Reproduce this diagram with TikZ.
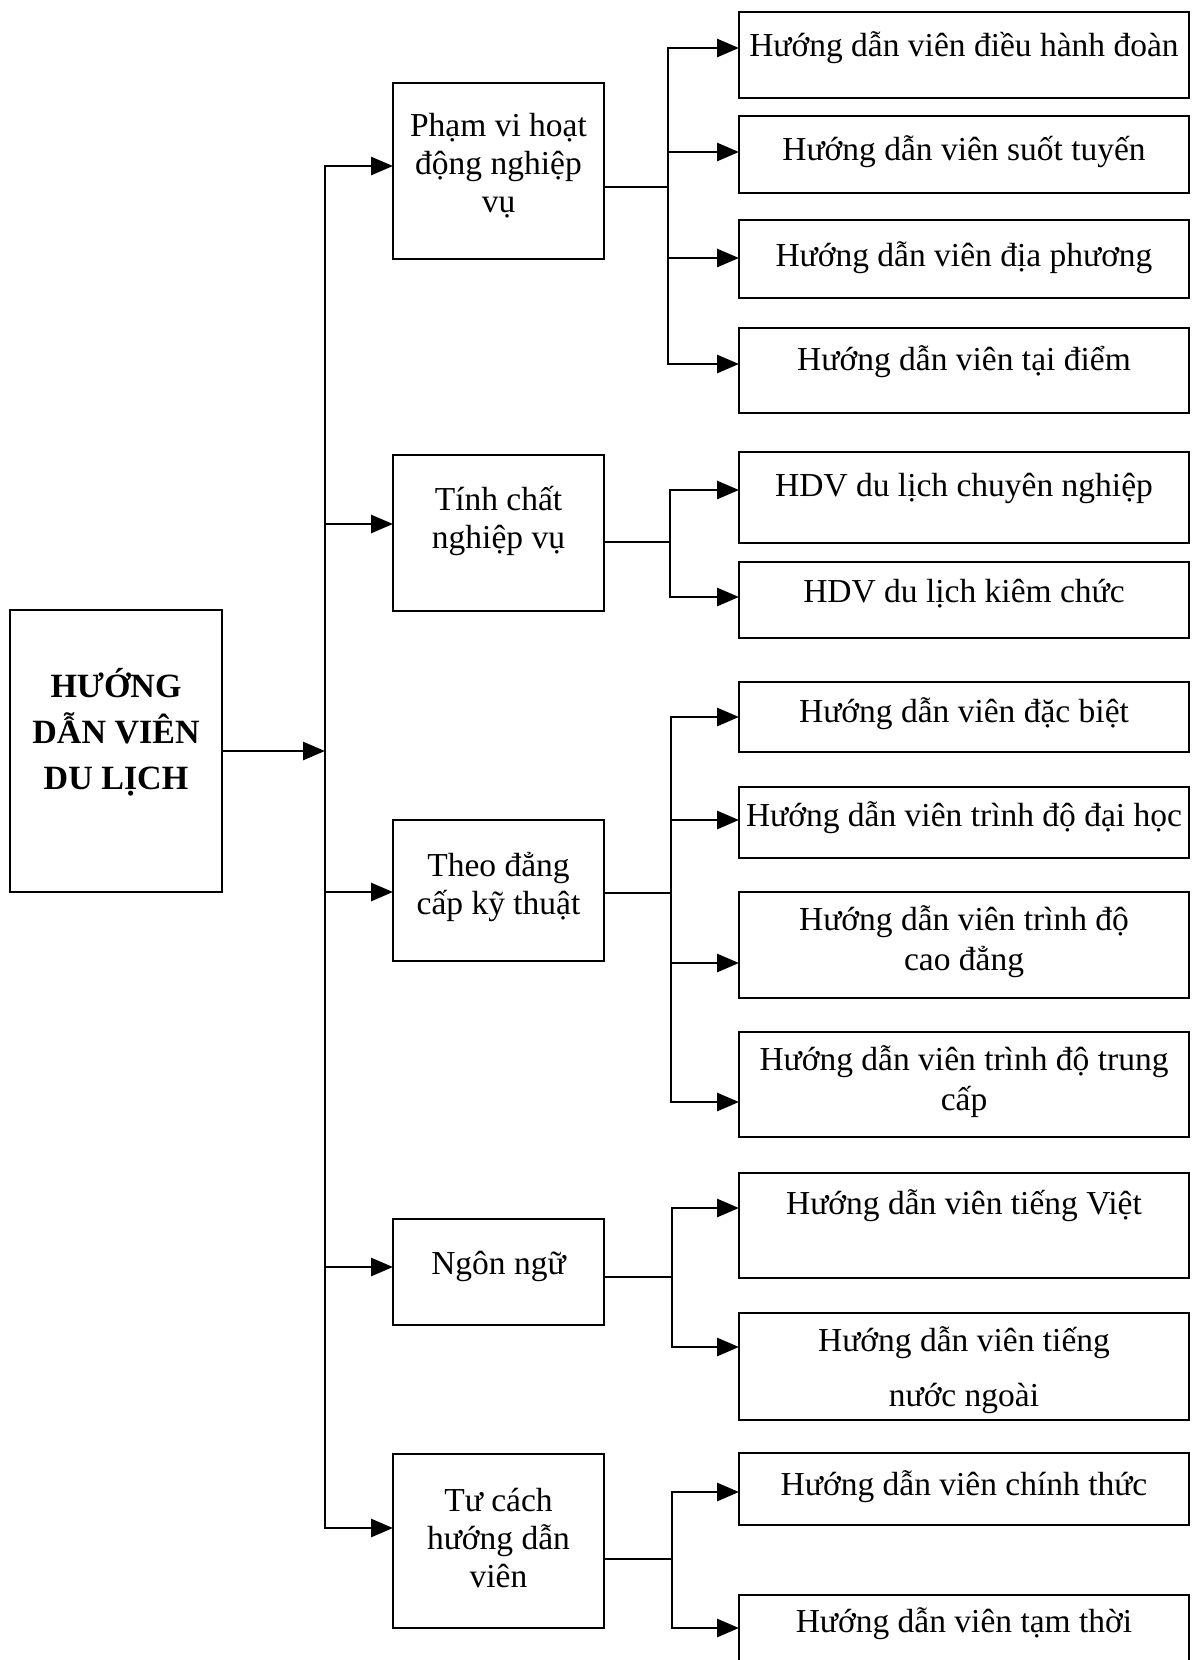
\documentclass[tikz,border=0pt]{standalone}
\usepackage{fontspec}
\setmainfont{Liberation Serif}
\usetikzlibrary{arrows.meta}
\tikzset{
  boxshape/.style={draw, line width=2.8pt, inner sep=0pt, outer sep=0pt},
  txt/.style={align=center, inner sep=0pt, font=\fontsize{33.5}{40}\selectfont},
  midtxt/.style={font=\fontsize{33.5}{38}\selectfont},
  roottxt/.style={font=\fontsize{34}{46}\selectfont\bfseries},
  widetxt/.style={font=\fontsize{33.5}{55}\selectfont},
  conn/.style={line width=2.8pt, line cap=rect},
  arr/.style={line width=2.8pt, line cap=rect, -{Triangle[length=22pt,width=18pt]}},
}
% name, x1, y1, x2, y2, text y, arrow y, text style, text
\newcommand\mkbox[9]{%
  \node[boxshape, minimum width={#4pt-#2pt}, minimum height={#5pt-#3pt}] (#1) at ({(#2+#4)/2},{(#3+#5)/2}) {};
  \node[txt, #8] (#1-t) at ({(#2+#4)/2},#6) {#9};
  \coordinate (#1-in) at (#2,#7);
}
\begin{document}
\begin{tikzpicture}[x=1pt,y=-1pt]
\useasboundingbox[fill=white] (0,0) rectangle (1197,1660);

% root
\mkbox{root}{10}{610}{222}{892}{732}{752}{roottxt}{HƯỚNG\\DẪN VIÊN\\DU LỊCH}

% middle level
\mkbox{m1}{393}{83}{604}{259}{166}{166}{midtxt}{Phạm vi hoạt\\động nghiệp\\vụ}
\mkbox{m2}{393}{455}{604}{611}{521}{524}{midtxt}{Tính chất\\nghiệp vụ}
\mkbox{m3}{393}{820}{604}{961}{887}{892}{midtxt}{Theo đẳng\\cấp kỹ thuật}
\mkbox{m4}{393}{1219}{604}{1325}{1266}{1267}{midtxt}{Ngôn ngữ}
\mkbox{m5}{393}{1454}{604}{1628}{1538}{1528}{midtxt}{Tư cách\\hướng dẫn\\viên}

\coordinate (m1-out) at (604,187);
\coordinate (m2-out) at (604,542);
\coordinate (m3-out) at (604,893);
\coordinate (m4-out) at (604,1277);
\coordinate (m5-out) at (604,1559);

% leaves
\mkbox{c11}{739}{12}{1189}{98}{48}{48}{}{Hướng dẫn viên điều hành đoàn}
\mkbox{c12}{739}{116}{1189}{193}{152}{152}{}{Hướng dẫn viên suốt tuyến}
\mkbox{c13}{739}{220}{1189}{298}{258}{258}{}{Hướng dẫn viên địa phương}
\mkbox{c14}{739}{328}{1189}{413}{362}{364}{}{Hướng dẫn viên tại điểm}

\mkbox{c21}{739}{452}{1189}{543}{488}{490}{}{HDV du lịch chuyên nghiệp}
\mkbox{c22}{739}{562}{1189}{638}{594}{597}{}{HDV du lịch kiêm chức}

\mkbox{c31}{739}{682}{1189}{752}{714}{717}{}{Hướng dẫn viên đặc biệt}
\mkbox{c32}{739}{787}{1189}{858}{818}{820}{}{Hướng dẫn viên trình độ đại học}
\mkbox{c33}{739}{892}{1189}{998}{942}{963}{}{Hướng dẫn viên trình độ\\cao đẳng}
\mkbox{c34}{739}{1032}{1189}{1137}{1082}{1102}{}{Hướng dẫn viên trình độ trung\\cấp}

\mkbox{c41}{739}{1173}{1189}{1278}{1206}{1208}{}{Hướng dẫn viên tiếng Việt}
\mkbox{c42}{739}{1313}{1189}{1420}{1370}{1347}{widetxt}{Hướng dẫn viên tiếng\\nước ngoài}

\mkbox{c51}{739}{1453}{1189}{1525}{1487}{1492}{}{Hướng dẫn viên chính thức}
\mkbox{c52}{739}{1595}{1189}{1690}{1624}{1628}{}{Hướng dẫn viên tạm thời}

% trunk
\coordinate (trunk) at (325,0);
\draw[arr] (root) -- (root -| trunk);
\draw[conn] (trunk |- m1-in) -- (trunk |- m5-in);
\foreach \m in {m1,m2,m3,m4,m5}{
  \draw[arr] (trunk |- \m-in) -- (\m-in);
}

% branches
\coordinate (j1) at (668,0);
\coordinate (j2) at (670,0);
\coordinate (j3) at (671,0);
\coordinate (j4) at (672,0);
\coordinate (j5) at (672,0);

\draw[conn] (m1-out) -- (j1 |- m1-out);
\draw[conn] (j1 |- c11-in) -- (j1 |- c14-in);
\foreach \c in {c11,c12,c13,c14}{ \draw[arr] (j1 |- \c-in) -- (\c-in); }

\draw[conn] (m2-out) -- (j2 |- m2-out);
\draw[conn] (j2 |- c21-in) -- (j2 |- c22-in);
\foreach \c in {c21,c22}{ \draw[arr] (j2 |- \c-in) -- (\c-in); }

\draw[conn] (m3-out) -- (j3 |- m3-out);
\draw[conn] (j3 |- c31-in) -- (j3 |- c34-in);
\foreach \c in {c31,c32,c33,c34}{ \draw[arr] (j3 |- \c-in) -- (\c-in); }

\draw[conn] (m4-out) -- (j4 |- m4-out);
\draw[conn] (j4 |- c41-in) -- (j4 |- c42-in);
\foreach \c in {c41,c42}{ \draw[arr] (j4 |- \c-in) -- (\c-in); }

\draw[conn] (m5-out) -- (j5 |- m5-out);
\draw[conn] (j5 |- c51-in) -- (j5 |- c52-in);
\foreach \c in {c51,c52}{ \draw[arr] (j5 |- \c-in) -- (\c-in); }
\end{tikzpicture}
\end{document}
